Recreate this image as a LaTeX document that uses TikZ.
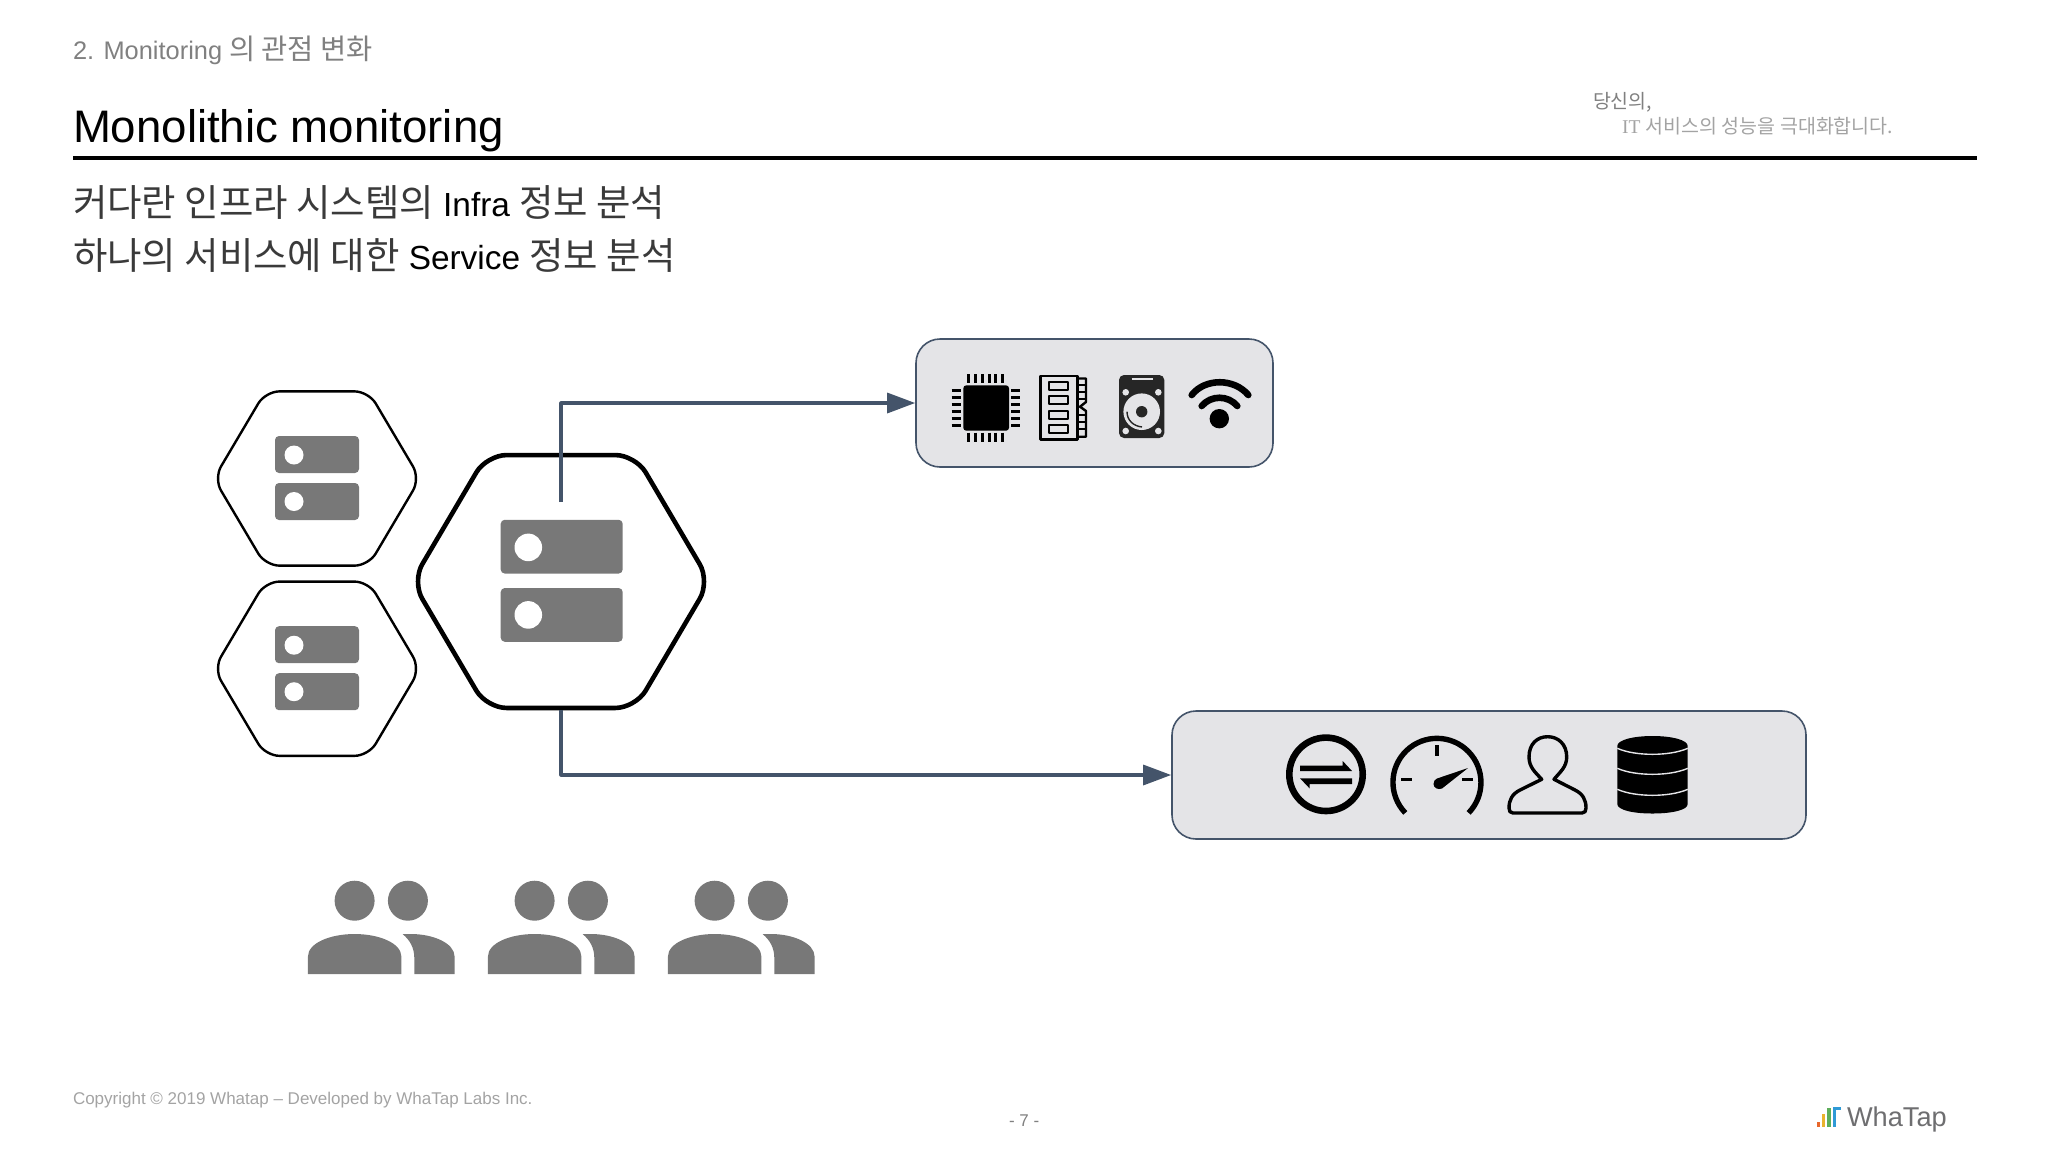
\documentclass[tikz,border=0pt]{standalone}
\usepackage{fontspec}
\setmainfont{Liberation Sans}
\newfontfamily\krfont[Scale=1.12]{Noto Sans CJK KR}
\newfontfamily\krtagfont{Noto Sans CJK KR}
\newfontfamily\tagserif{Liberation Serif}
\usepackage{tikz}
\usetikzlibrary{arrows.meta}
\usetikzlibrary{positioning}
\usetikzlibrary{shapes.geometric}
\definecolor{slateline}{HTML}{44546A}
\definecolor{panelgray}{HTML}{E4E4E7}
\definecolor{icongray}{HTML}{787878}
\definecolor{headgray}{HTML}{808080}
\definecolor{footgray}{HTML}{A3A3A3}
\definecolor{krblack}{HTML}{3A3A3A}
\definecolor{logogray}{HTML}{6E6E70}
\definecolor{logoorange}{HTML}{E8672C}
\definecolor{logoyellow}{HTML}{E9B32E}
\definecolor{logogreen}{HTML}{5DAE5A}
\definecolor{logoblue}{HTML}{2F9AD6}
\tikzset{
  txt/.style={anchor=base west,inner sep=0pt,outer sep=0pt},
  hexsmall/.style={draw=black,line width=1.2pt,regular polygon,regular polygon sides=6,minimum size=100.6pt,inner sep=0pt,rounded corners=7pt,xscale=1.025,transform shape},
  hexbig/.style={draw=black,line width=2.3pt,regular polygon,regular polygon sides=6,minimum size=146pt,inner sep=0pt,rounded corners=10pt,xscale=1.02,transform shape},
  panel/.style={draw=slateline,line width=0.8pt,fill=panelgray,rounded corners=12pt,minimum height=64pt},
  link/.style={draw=slateline,line width=1.6pt,-{Triangle[length=14pt,width=10pt]}},
  pics/srvicon/.style={code={
    \fill[icongray,rounded corners=2pt] (-42,-42.5) rectangle (42,-5.5);
    \fill[icongray,rounded corners=2pt] (-42,4.5) rectangle (42,41.5);
    \fill[white] (-23,-23.5) circle (9.5);
    \fill[white] (-23,23) circle (9.5);
  }},
  pics/usergroup/.style={code={
    \fill[icongray] (354.6,900.7) circle (20);
    \fill[icongray] (407.9,900.7) circle (20);
    \fill[icongray] (307.9,974) -- (307.9,956.7) .. controls (307.9,943) and (330,934) .. (354.6,934) .. controls (379,934) and (401.4,943) .. (401.4,956.7) -- (401.4,974) -- cycle;
    \fill[icongray] (402.5,934) .. controls (410,940) and (414.3,948) .. (414.3,958) -- (414.3,974) -- (454.6,974) -- (454.6,956.7) .. controls (454.6,943) and (433,934) .. (411,934) -- cycle;
  }}
}
\begin{document}
\begin{tikzpicture}[line join=round,x=0.5pt,y=-0.5pt]
	\useasboundingbox (0,0) rectangle (2048,1152);
	% heading
	\node[txt,text=headgray] (chapter) at (73,59.5) {\fontsize{12.7}{15}\selectfont 2. Monitoring {\krfont 의 관점 변화}};
	\node[txt] (title) at (73,142.5) {\fontsize{22.8}{27}\selectfont Monolithic monitoring};
	\node[txt,text=headgray] (tagone) at (1593,108) {\fontsize{9.75}{11}\selectfont\krtagfont 당신의,};
	\node[txt,text=footgray] (tagtwo) at (1622,133) {\fontsize{9.75}{11}\selectfont{\tagserif IT} \krtagfont 서비스의 성능을 극대화합니다.};
	\coordinate (ruleleft) at (73,158);
	\coordinate (ruleright) at (1977,158);
	\draw[line width=1.7pt] (ruleleft) -- (ruleright);
	\node[txt] (lineone) at (73,216) {\fontsize{16.7}{19}\selectfont {\krfont\color{krblack} 커다란 인프라 시스템의} Infra {\krfont\color{krblack} 정보 분석}};
	\node[txt] (linetwo) at (73,269) {\fontsize{16.7}{19}\selectfont {\krfont\color{krblack} 하나의 서비스에 대한} Service {\krfont\color{krblack} 정보 분석}};
	% servers
	\node[hexsmall] (hexup) at (317,478.5) {};
	\node[hexsmall] (hexdown) at (317,668.7) {};
	\node[hexbig] (hexmain) at (561,581.5) {};
	\pic at (317,478.5) {srvicon};
	\pic at (317,668.7) {srvicon};
	\pic[scale=1.452] at (561.7,581.5) {srvicon};
	% panels
	\node[panel,minimum width=178.5pt] (infrabox) at (1094.5,403) {};
	\node[panel,minimum width=317pt] (svcbox) at (1489,775) {};
	\coordinate (srvtop) at (561,502);
	\draw[link] (srvtop) |- (infrabox.west);
	\draw[link] (hexmain.south) |- (svcbox.west);
	% chip
	\fill[rounded corners=1.5pt] (963.3,385.3) rectangle (1009,430.7);
	\foreach \p in {968.3,975.2,982.1,989,995.9,1002.8}
	\draw[line width=1.5pt] (\p,374.3) -- (\p,383) (\p,432.7) -- (\p,441.7);
	\foreach \p in {390.7,397.6,404.5,411.4,418.3,425.2}
	\draw[line width=1.5pt] (951.7,\p) -- (961,\p) (1011,\p) -- (1020,\p);
	% memory
	\draw[line width=1.4pt] (1040.3,376) rectangle (1077.3,439.3);
	\draw[line width=1.2pt] (1077.3,378.5) -- (1086,378.5) -- (1086,402) -- (1080,406.7) -- (1086,411) -- (1086,436.7) -- (1077.3,436.7);
	\foreach \p in {381.7,396,410.7,425}
	\draw[line width=1.1pt] (1049.3,\p) rectangle (1067.7,\p+8.3);
	\foreach \p in {385,392,399,415,422,429}
	\draw[line width=0.8pt] (1077.3,\p) -- (1086,\p);
	% disk
	\fill[black!85,rounded corners=2.5pt] (1119,375) rectangle (1164.3,438);
	\draw[panelgray,line width=0.9pt] (1131.7,379) -- (1152.7,379);
	\foreach \a/\b in {1125.7/392.3,1158.3/392.3,1125.7/431,1158.3/431}
	\fill[panelgray] (\a,\b) circle (3.3);
	\fill[panelgray] (1141.7,411.7) circle (18.3);
	\fill[black!85] (1141.7,411.7) circle (5.7);
	\draw[black!85,line width=0.7pt] (1127,411.7) .. controls (1127,420) and (1133,426) .. (1142,427);
	% wifi
	\fill (1219.3,418.7) circle (9.7);
	\draw[line width=3.3pt,line cap=round] (1191.7,395) .. controls (1205,378) and (1234,378) .. (1248.3,395);
	\draw[line width=3.3pt,line cap=round] (1201.7,406) .. controls (1211,395) and (1228,395) .. (1237.3,406);
	% transfer
	\draw[line width=3.3pt] (1326,774.3) circle (36.7);
	\fill (1300,765.7) -- (1342.7,765.7) -- (1342.7,761) -- (1352,771) -- (1300,771) -- cycle;
	\fill (1352,778.3) -- (1309.5,778.3) -- (1300,778.3) -- (1309.5,788.3) -- (1309.5,784) -- (1352,784) -- cycle;
	% gauge
	\draw[line width=2.7pt] (1405.3,812.9) arc[start angle=136,end angle=404,radius=44];
	\draw[line width=2pt] (1437,745) -- (1437,756);
	\draw[line width=1.6pt] (1401,779.3) -- (1412,779.3) (1462.3,779.3) -- (1473.3,779.3);
	\fill (1468,768) -- (1442,788.5) .. controls (1438,790) and (1433.5,788) .. (1433.5,784) .. controls (1433.5,781) and (1435,779.5) .. (1437,778.5) -- cycle;
	% user
	\draw[line width=1.7pt] (1541.7,779.3) .. controls (1535,772) and (1529,767) .. (1529,757) .. controls (1529,744) and (1537,736.7) .. (1547.7,736.7) .. controls (1558,736.7) and (1566.7,744) .. (1566.7,757) .. controls (1566.7,767) and (1560,772) .. (1554,779.3) -- (1575,790) .. controls (1583,794) and (1586,800) .. (1586,808) .. controls (1586,811) and (1585,813) .. (1582,813) -- (1513,813) .. controls (1510,813) and (1509,811) .. (1509,808) .. controls (1509,800) and (1512,794) .. (1520,790) -- cycle;
	% database
	\fill (1617.3,746) .. controls (1617.3,740) and (1633,736) .. (1652.5,736) .. controls (1672,736) and (1687.7,740) .. (1687.7,746) -- (1687.7,804) .. controls (1687.7,810) and (1672,813.5) .. (1652.5,813.5) .. controls (1633,813.5) and (1617.3,810) .. (1617.3,804) -- cycle;
	\foreach \p in {748.3,768.3,789.3}
	\draw[panelgray,line width=0.7pt] (1617.3,\p) .. controls (1635,\p+8) and (1670,\p+8) .. (1687.7,\p);
	% users
	\foreach \s in {0,180,360}
	\pic[xshift=\s*0.5pt] at (0,0) {usergroup};
	% footer
	\node[txt,text=footgray] (copy) at (73,1104.5) {\fontsize{8.5}{11}\selectfont Copyright © 2019 Whatap – Developed by WhaTap Labs Inc.};
	\node[txt,text=headgray] (pageno) at (1009,1126.5) {\fontsize{8.5}{10}\selectfont - 7 -};
	\node[txt,text=logogray] (logo) at (1847,1126.5) {\fontsize{13.6}{16}\selectfont WhaTap};
	\fill[logoorange] (1816.7,1122) rectangle (1819.5,1126.7);
	\fill[logoyellow] (1821.7,1114) rectangle (1825,1126.7);
	\fill[logogreen] (1827.3,1108) rectangle (1830.7,1126.7);
	\fill[logoblue] (1832.7,1106.7) rectangle (1836,1126.7);
	\fill[logoblue] (1832.7,1106.7) rectangle (1840.7,1109.7);
\end{tikzpicture}
\end{document}
